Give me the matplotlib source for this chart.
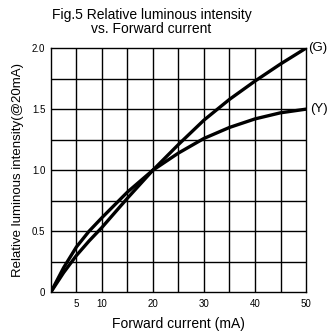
import matplotlib
matplotlib.use("Agg")
import matplotlib.pyplot as plt
import numpy as np

plt.rcParams['font.family'] = ['Liberation Sans', 'DejaVu Sans']

current = [0, 2.5, 5, 7.5, 10, 15, 20, 25, 30, 35, 40, 45, 50]
green = [0, 0.16, 0.30, 0.42, 0.53, 0.77, 1.0, 1.21, 1.41, 1.58, 1.73, 1.87, 2.0]
yellow = [0, 0.20, 0.37, 0.50, 0.61, 0.82, 1.0, 1.14, 1.26, 1.35, 1.42, 1.47, 1.5]
xticks = [5, 10, 20, 30, 40, 50]
yticks = [0, 0.5, 1.0, 1.5, 2.0]
ytick_labels = ["0", "0.5", "1.0", "1.5", "2.0"]

fig = plt.figure(figsize=(3.28, 3.32), dpi=100)
ax = fig.add_axes([0.155, 0.120, 0.778, 0.735])

ax.set_xlim(0, 50)
ax.set_ylim(0, 2.0)
for x in np.arange(5, 50, 5):
    ax.axvline(x, color='black', lw=1.0, zorder=1)
for y in np.arange(0.25, 2.0, 0.25):
    ax.axhline(y, color='black', lw=1.0, zorder=1)

ax.plot(current, green, color='black', lw=2.4, zorder=3, solid_capstyle='round')
ax.plot(current, yellow, color='black', lw=2.4, zorder=3, solid_capstyle='round')

for s in ax.spines.values():
    s.set_color('black')
    s.set_linewidth(1.0)

ax.set_xticks(xticks)
ax.set_xticklabels([str(v) for v in xticks], fontsize=7)
ax.set_yticks(yticks)
ax.set_yticklabels(ytick_labels, fontsize=7)
ax.tick_params(axis='x', length=0, pad=5)
ax.tick_params(axis='y', length=0, pad=4)

ax.text(50.5, 2.0, "(G)", fontsize=9.5, va='center', ha='left', clip_on=False)
ax.text(50.8, 1.5, "(Y)", fontsize=9.5, va='center', ha='left', clip_on=False)

ax.set_xlabel("Forward current (mA)", fontsize=10, labelpad=6)
ax.set_ylabel("Relative luminous intensity(@20mA)", fontsize=9.5, labelpad=6)

fig.text(0.462, 0.935, "Fig.5 Relative luminous intensity\nvs. Forward current",
         fontsize=10, ha='center', va='center', linespacing=1.0)

fig.savefig("out.png", dpi=100)
